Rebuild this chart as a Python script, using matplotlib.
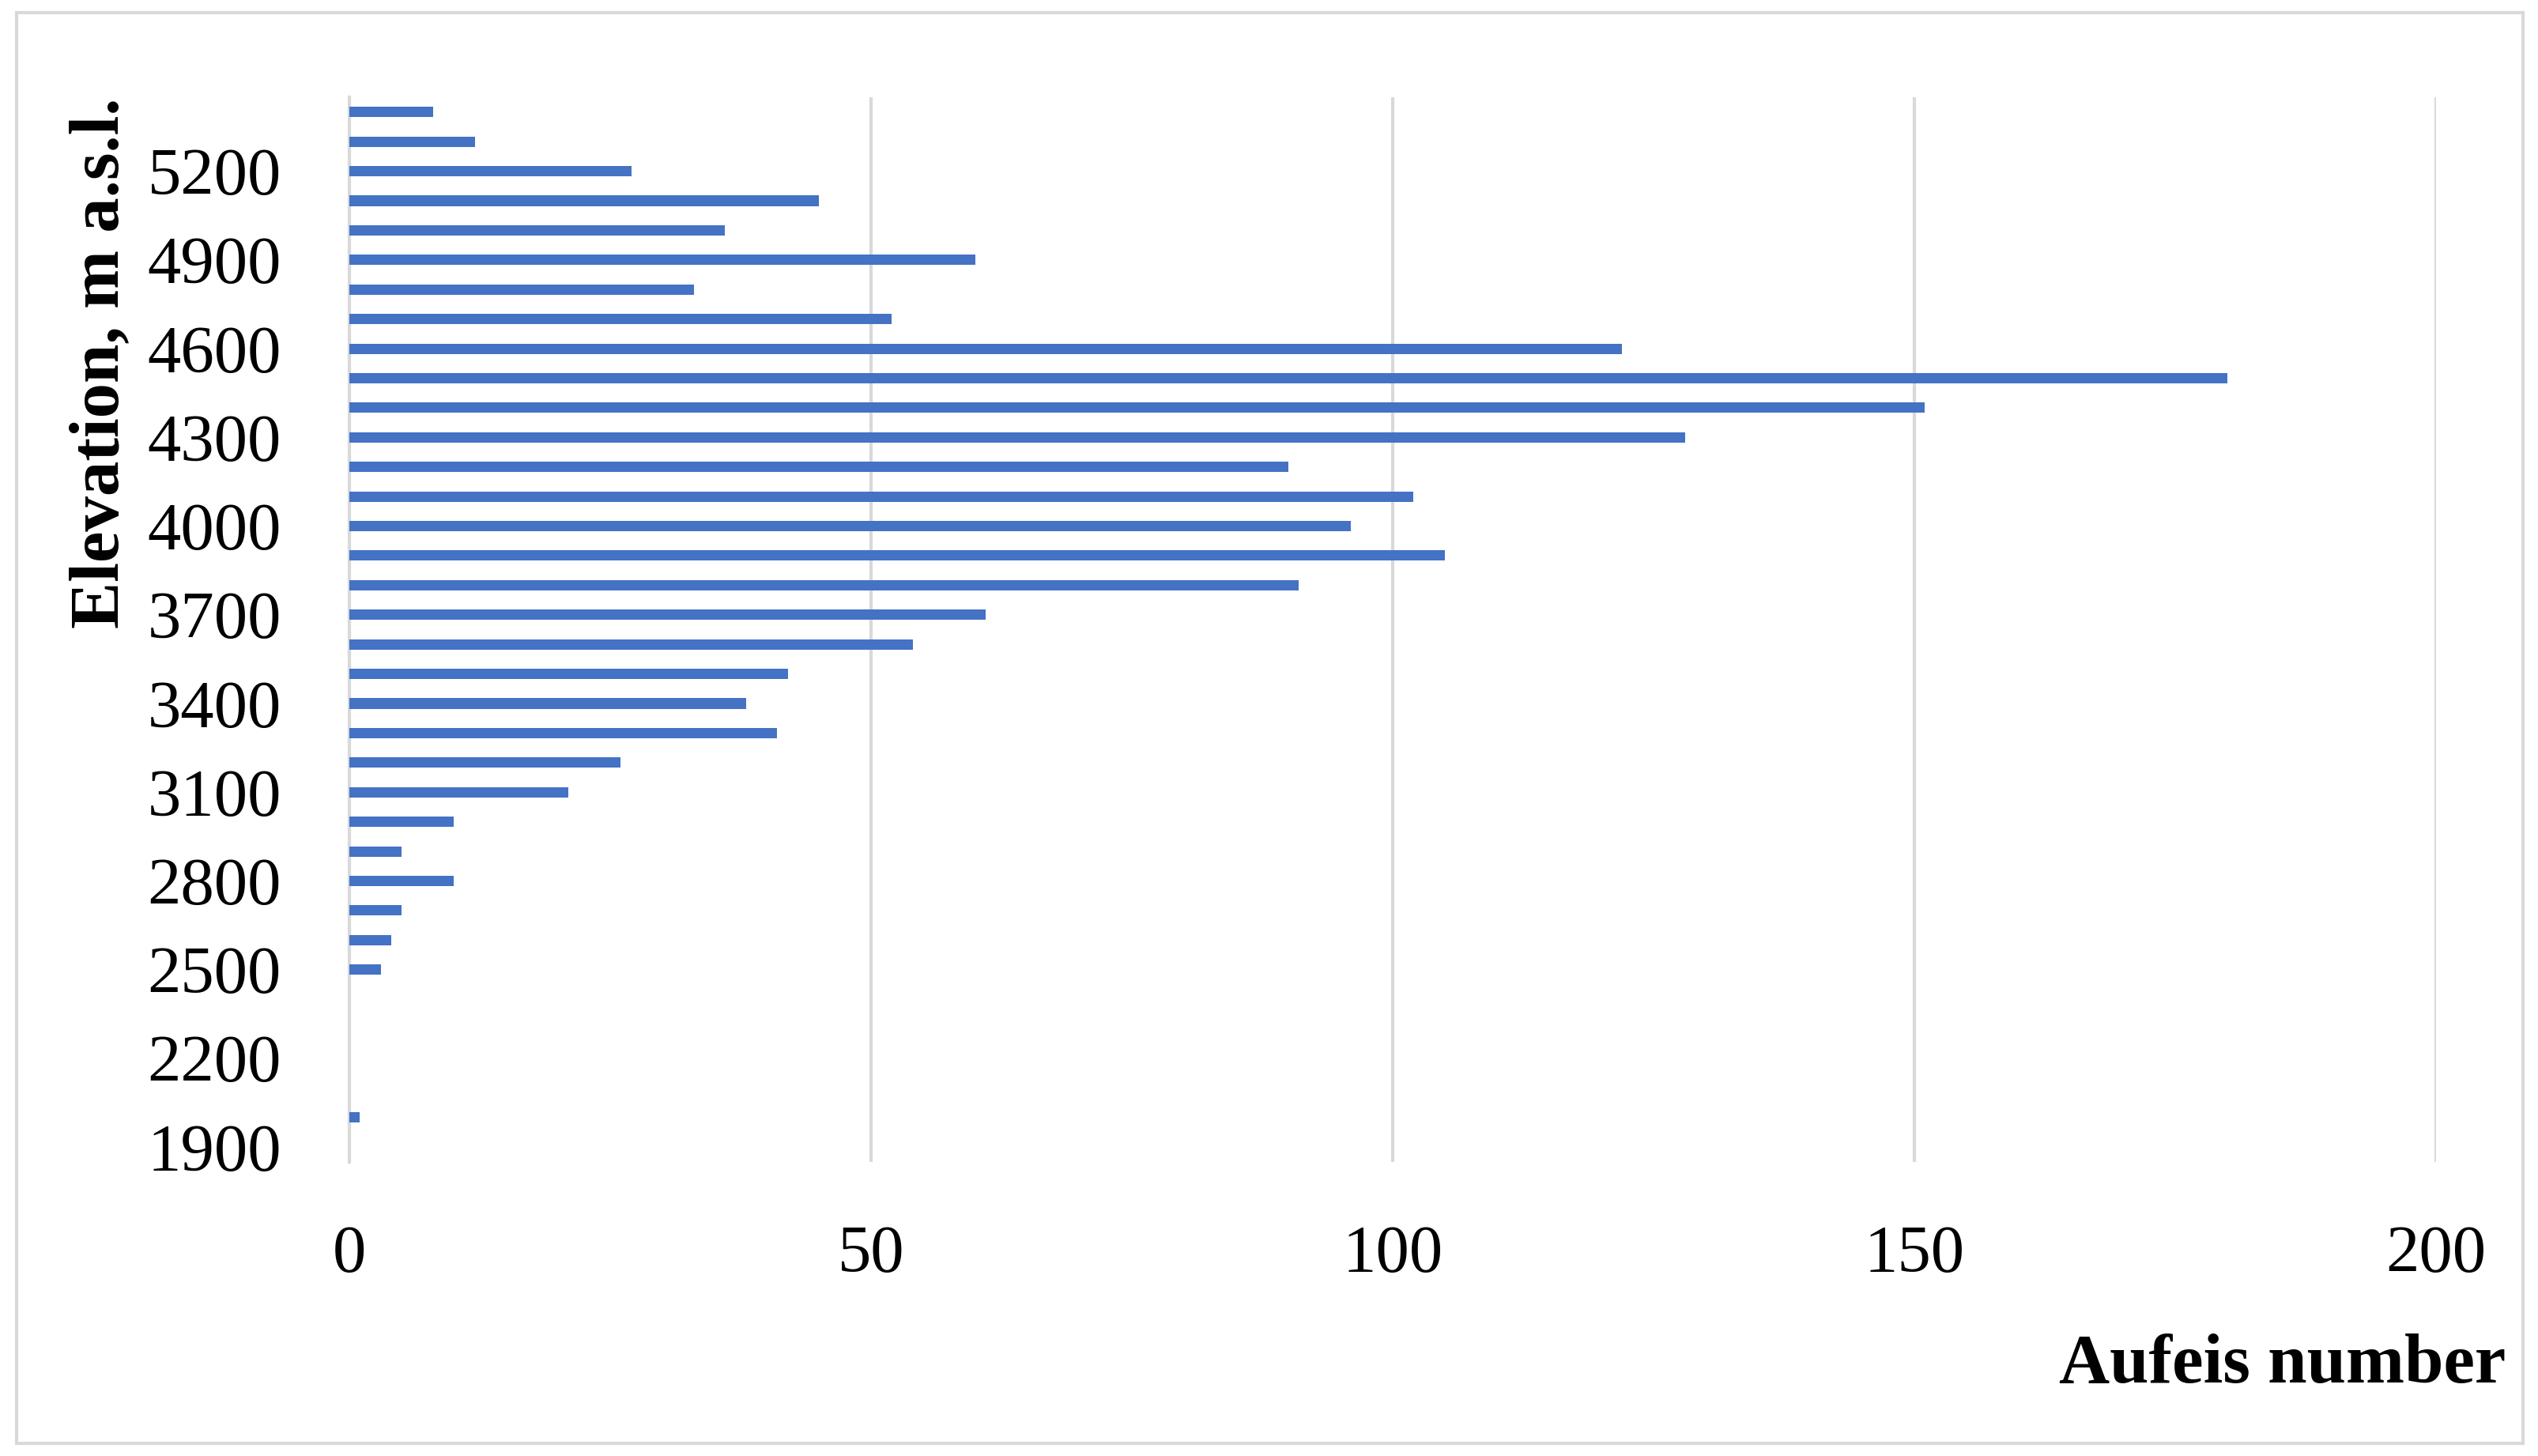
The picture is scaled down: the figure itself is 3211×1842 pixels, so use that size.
import matplotlib
matplotlib.use("Agg")
import matplotlib.pyplot as plt
from matplotlib.patches import Rectangle

# Aufeis count per 100 m elevation band
elevations = [1900, 2000, 2100, 2200, 2300, 2400, 2500, 2600, 2700, 2800,
              2900, 3000, 3100, 3200, 3300, 3400, 3500, 3600, 3700, 3800,
              3900, 4000, 4100, 4200, 4300, 4400, 4500, 4600, 4700, 4800,
              4900, 5000, 5100, 5200, 5300, 5400]
aufeis_counts = [0, 1, 0, 0, 0, 0, 3, 4, 5, 10,
                 5, 10, 21, 26, 41, 38, 42, 54, 61, 91,
                 105, 96, 102, 90, 128, 151, 180, 122, 52, 33,
                 60, 36, 45, 27, 12, 8]
y_ticks = [1900, 2200, 2500, 2800, 3100, 3400, 3700, 4000, 4300, 4600, 4900, 5200]
x_ticks = [0, 50, 100, 150, 200]

plt.rcParams["font.family"] = ["Liberation Serif", "DejaVu Serif"]

fig = plt.figure(figsize=(32.11, 18.42), dpi=100)
ax = fig.add_axes([0.1377, 0.2020, 0.8221, 0.7312])

ax.barh(elevations, aufeis_counts, height=35, color="#4472C4", zorder=3)

ax.set_xlim(0, 200)
ax.set_ylim(1850, 5450)
ax.set_xticks(x_ticks)
ax.set_xticklabels([str(v) for v in x_ticks])
ax.set_yticks(y_ticks)
ax.set_yticklabels([str(v) for v in y_ticks])
ax.tick_params(axis="both", length=0, labelsize=61)
ax.tick_params(axis="x", pad=58)
ax.tick_params(axis="y", pad=62)

ax.grid(axis="x", color="#d9d9d9", linewidth=3, zorder=0)
for side in ["top", "right", "bottom"]:
    ax.spines[side].set_visible(False)
ax.spines["left"].set_color("#d9d9d9")
ax.spines["left"].set_linewidth(3)

fig.text(0.0396, 0.7508, "Elevation, m a.s.l.", rotation=90, ha="center",
         va="center", fontsize=64, fontweight="bold")
fig.text(0.9872, 0.0624, "Aufeis number", ha="right", va="center",
         fontsize=64, fontweight="bold")

# light grey frame round the whole chart
fig.patches.append(Rectangle((0.0065, 0.0087), 0.9875, 0.9826,
                             transform=fig.transFigure, fill=False,
                             edgecolor="#d9d9d9", linewidth=3))

fig.savefig("out.png", dpi=100, facecolor="white")
